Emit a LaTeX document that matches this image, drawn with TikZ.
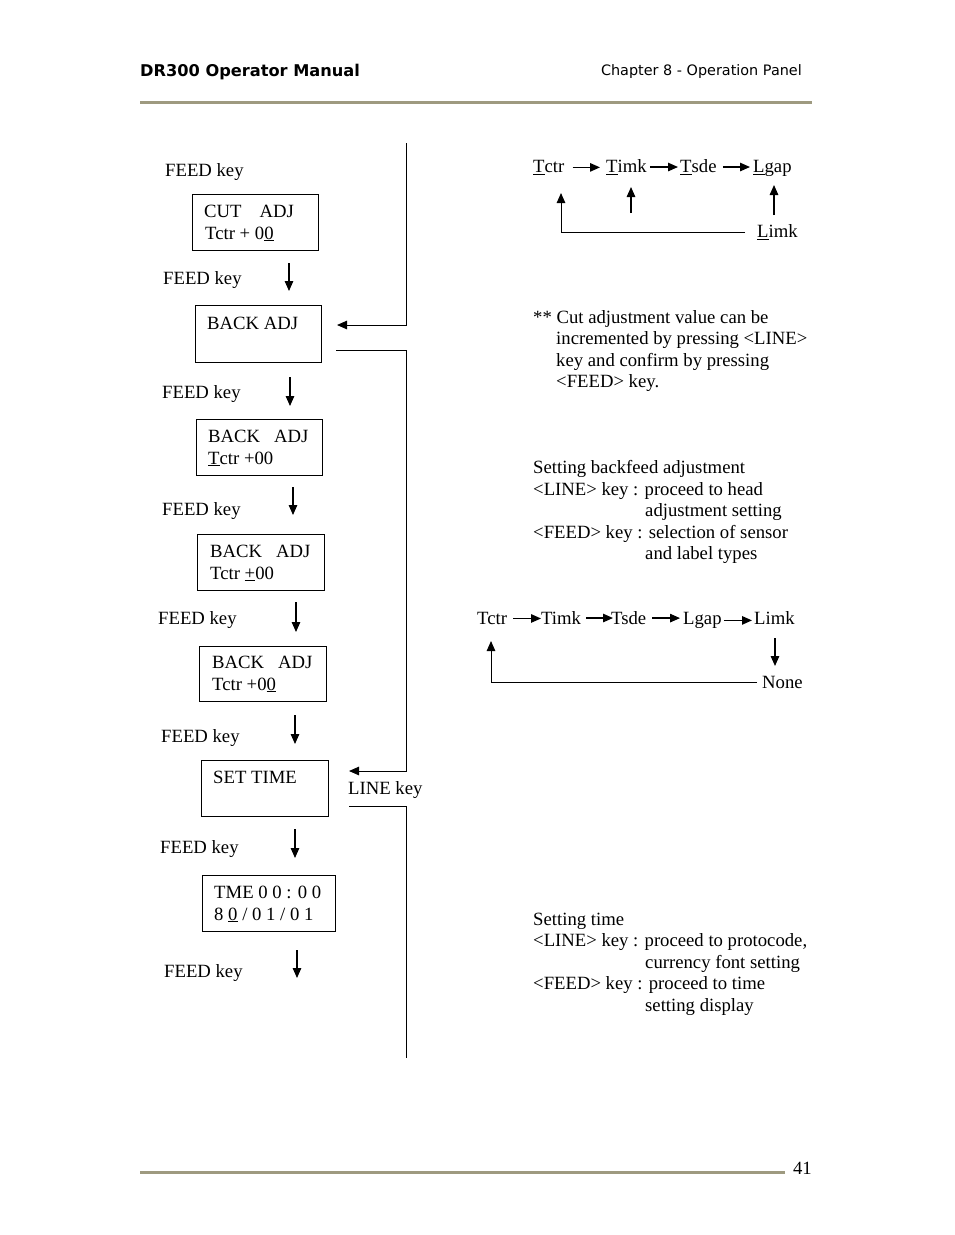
\documentclass[tikz,border=0pt]{standalone}
\usepackage{fontspec}
\setmainfont{Liberation Serif}
\newfontfamily\headfont{DejaVu Sans}
\usetikzlibrary{arrows.meta,calc}
\definecolor{rulegray}{RGB}{158,154,128}

\tikzstyle{every node}+=[inner sep=0pt,font=\fontsize{18.7}{22}\selectfont]
\tikzstyle{txt}=[anchor=base west]
\tikzstyle{panel}=[draw,line width=1.2pt,anchor=north west,minimum height=56pt]
\tikzstyle{arr}=[line width=1.3pt,-{Triangle[length=10pt,width=8.5pt]}]
\tikzstyle{wire}=[line width=1pt]
\newcommand{\drawarrows}[2][]{
	\foreach \a/\b in {#2}{
		\draw[arr,#1] (\a) -- (\b);
	}
}

\begin{document}
\begin{tikzpicture}[x=1pt,y=-1pt]

\fill[white] (0,0) rectangle (954,1235);
\useasboundingbox (0,0) rectangle (954,1235);

% header and footer
\node[txt,font=\headfont\bfseries\fontsize{16.2}{19}\selectfont] (title) at (140,76) {DR300 Operator Manual};
\node[anchor=base east,font=\headfont\fontsize{14.4}{17}\selectfont] (chapter) at (802,75.5) {Chapter 8 - Operation Panel};
\draw[rulegray,line width=3pt] (140,102) -- (812,102);
\draw[rulegray,line width=3pt] (140,1172) -- (785,1172);
\node[anchor=base east] (page) at (812,1174) {41};

% panel displays
\node[panel,minimum width=126pt] (b1) at (192,194) {};
\node[panel,minimum width=126pt,minimum height=57pt] (b2) at (195,305) {};
\node[panel,minimum width=126pt] (b3) at (196,419) {};
\node[panel,minimum width=127pt] (b4) at (197,534) {};
\node[panel,minimum width=127pt,minimum height=55pt] (b5) at (199,646) {};
\node[panel,minimum width=127pt] (b6) at (201,760) {};
\node[panel,minimum width=133pt] (b7) at (202,875) {};

\node[txt] (b1a) at (204,217) {CUT\hspace{18pt}ADJ};
\node[txt] (b1b) at (205,239) {Tctr + 0\underline{0}};
\node[txt] (b2a) at (207,329) {BACK ADJ};
\node[txt] (b3a) at (208,442) {BACK\hspace{14pt}ADJ};
\node[txt] (b3b) at (208,464) {\underline{T}ctr +00};
\node[txt] (b4a) at (210,557) {BACK\hspace{14pt}ADJ};
\node[txt] (b4b) at (210,579) {Tctr \underline{+}00};
\node[txt] (b5a) at (212,668) {BACK\hspace{14pt}ADJ};
\node[txt] (b5b) at (212,690) {Tctr +0\underline{0}};
\node[txt] (b6a) at (213,783) {SET TIME};
\node[txt] (b7a) at (214,898) {TME 0 0 : 0 0};
\node[txt] (b7b) at (214,920) {8 \underline{0} / 0 1 / 0 1};

\foreach \n/\x/\y in {1/165/176.5,2/163/284.5,3/162/398.5,4/162/515.5,
	5/158/624.5,6/161/742.5,7/160/853.5,8/164/977.5}{
	\node[txt] (fk\n) at (\x,\y) {FEED key};
}
\foreach \n/\x/\ya/\yb in {1/289/263/291,2/290/377/406,3/293/487/515,4/296/602/632,
	5/295/715/744,6/295/829/858,7/297/950/978}{
	\coordinate (d\n s) at (\x,\ya);
	\coordinate (d\n e) at (\x,\yb);
}
\drawarrows{d1s/d1e,d2s/d2e,d3s/d3e,d4s/d4e,d5s/d5e,d6s/d6e,d7s/d7e}

% LINE key loops
\node[txt] (linekey) at (348,794) {LINE key};
\coordinate (l1top) at (406,143);
\coordinate (l1end) at (337,325);
\coordinate (l2s) at (336,350);
\coordinate (l2e) at (349,771);
\coordinate (l3s) at (349,806);
\coordinate (l3end) at (406,1058);
\draw[arr,wire] (l1top) |- (l1end);
\draw[arr,wire] (l2s) -| (l1top |- l2e) -- (l2e);
\draw[wire] (l3s) -| (l3end);

% sensor order, cut adjustment
\node[txt] (tctr) at (533,172.5) {\underline{T}ctr};
\node[txt] (timk) at (606,172.5) {\underline{T}imk};
\node[txt] (tsde) at (680,172.5) {\underline{T}sde};
\node[txt] (lgap) at (753,172.5) {\underline{L}gap};
\node[txt] (limk) at (757,237.5) {\underline{L}imk};
\foreach \a/\b/\s/\t in {tctr/timk/8/6,timk/tsde/3/2,tsde/lgap/6/3}{
	\draw[arr,shorten <=\s pt,shorten >=\t pt] (\a.east) -- (\a.east -| \b.west);
}
\coordinate (c1) at (561,193);
\draw[arr,wire,shorten <=12pt] (limk.west) -| (c1);
\coordinate (u1s) at (631,213);
\coordinate (u1e) at (631,187);
\coordinate (u2s) at (774,215);
\coordinate (u2e) at (774,185);
\drawarrows{u1s/u1e,u2s/u2e}

\node[txt] (n1a) at (533,323.5) {** Cut adjustment value can be};
\node[txt] (n1b) at (556,344.5) {incremented by pressing <LINE>};
\node[txt] (n1c) at (556,366.5) {key and confirm by pressing};
\node[txt] (n1d) at (556,387.5) {<FEED> key.};

% backfeed adjustment
\node[txt] (n2a) at (533,473.5) {Setting backfeed adjustment};
\node[txt] (n2b) at (533,495.5) {<LINE> key : proceed to head};
\node[txt] (n2c) at (645,516.5) {adjustment setting};
\node[txt] (n2d) at (533,538.5) {<FEED> key : selection of sensor};
\node[txt] (n2e) at (645,559.5) {and label types};

\node[txt] (tctr2) at (477,624.5) {Tctr};
\node[txt] (timk2) at (541,624.5) {Timk};
\node[txt] (tsde2) at (611,624.5) {Tsde};
\node[txt] (lgap2) at (683,624.5) {Lgap};
\node[txt] (limk2) at (754,624.5) {Limk};
\node[txt] (none) at (762,688.5) {None};
\foreach \a/\b/\s/\t in {tctr2/timk2/6/0,timk2/tsde2/5/-2,tsde2/lgap2/6/3,lgap2/limk2/2/2}{
	\draw[arr,shorten <=\s pt,shorten >=\t pt] (\a.east) -- (\a.east -| \b.west);
}
\coordinate (dn1) at (775,638);
\coordinate (dn2) at (775,666);
\drawarrows{dn1/dn2}
\coordinate (c2) at (491,641);
\draw[arr,wire,shorten <=5pt] (none.west) -| (c2);

% set time
\node[txt] (n3a) at (533,925.5) {Setting time};
\node[txt] (n3b) at (533,946.5) {<LINE> key : proceed to protocode,};
\node[txt] (n3c) at (645,968.5) {currency font setting};
\node[txt] (n3d) at (533,989.5) {<FEED> key : proceed to time};
\node[txt] (n3e) at (645,1011.5) {setting display};

\end{tikzpicture}
\end{document}
